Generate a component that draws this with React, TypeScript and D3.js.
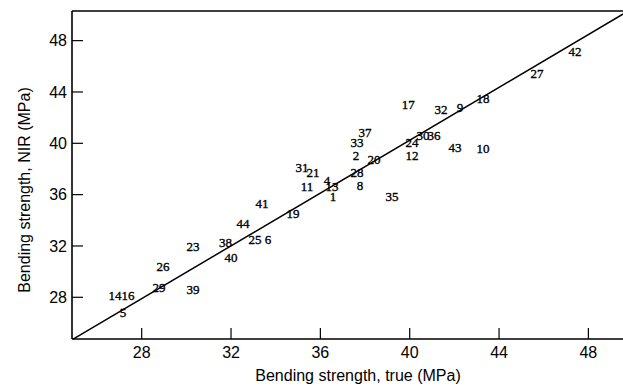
import React, { useEffect } from "react";
import * as d3 from "d3";

// sample numbers (drawn as the marks themselves)
const sampleIds = [
  "1", "2", "4", "5", "6", "8", "9", "10", "11", "12", "13", "14", "16", "17", "18",
  "19", "20", "21", "23", "24", "25", "26", "27", "28", "29", "30", "31", "32", "33",
  "35", "36", "37", "38", "39", "40", "41", "42", "43", "44",
];
// bending strength, true (MPa)
const trueValues = [
  36.57, 37.6, 36.3, 27.16, 33.66, 37.78, 42.25, 43.28, 35.4, 40.1, 36.52, 26.8, 27.39, 39.93, 43.28,
  34.78, 38.4, 35.67, 30.3, 40.1, 33.07, 28.95, 45.7, 37.64, 28.77, 40.6, 35.18, 41.4, 37.64,
  39.21, 41.09, 38.0, 31.75, 30.3, 32.0, 33.39, 47.4, 42.03, 32.54,
];
// bending strength, NIR prediction (MPa)
const nirValues = [
  35.82, 39.09, 37.14, 26.78, 32.47, 36.75, 42.83, 39.56, 36.6, 39.09, 36.6, 28.18, 28.18, 42.99, 43.53,
  34.57, 38.78, 37.69, 32.0, 40.03, 32.47, 30.44, 45.48, 37.69, 28.8, 40.65, 38.08, 42.6, 40.03,
  35.82, 40.65, 40.81, 32.31, 28.65, 31.14, 35.35, 47.12, 39.71, 33.79,
];
const xTicks = [28, 32, 36, 40, 44, 48];
const yTicks = [28, 32, 36, 40, 44, 48];
// fitted line y = a + b x
const fitA = -0.92;
const fitB = 1.029;
const fitRange = [24.93, 49.56];

const W = 623;
const H = 387;
const left = 72;
const right = 623;
const top = 11;
const bottom = 339;

export default function App() {
  useEffect(() => {
    document.body.style.margin = "0";
  }, []);

  const x = d3.scaleLinear().domain([24.88, 49.55]).range([left, right]);
  const y = d3.scaleLinear().domain([24.75, 50.31]).range([bottom, top]);

  const line = d3
    .line<number>()
    .x((d) => x(d))
    .y((d) => y(fitA + fitB * d));

  const axisFont = "'Liberation Sans', Arial, sans-serif";

  return (
    <svg width={W} height={H} style={{ display: "block", background: "#fff" }}>
      {/* frame */}
      <line x1={left} y1={top} x2={right} y2={top} stroke="#000" strokeWidth={1.6} />
      <line x1={left} y1={top} x2={left} y2={bottom} stroke="#000" strokeWidth={1.6} />
      <line x1={left} y1={bottom} x2={right} y2={bottom} stroke="#000" strokeWidth={1.6} />

      {/* x ticks */}
      {xTicks.map((t) => (
        <g key={"x" + t}>
          <line x1={x(t)} x2={x(t)} y1={bottom} y2={bottom - 11} stroke="#000" strokeWidth={1.2} />
          <text x={x(t)} y={358} textAnchor="middle" fontFamily={axisFont} fontSize={16}>
            {t}
          </text>
        </g>
      ))}

      {/* y ticks */}
      {yTicks.map((t) => (
        <g key={"y" + t}>
          <line x1={left} x2={left + 11} y1={y(t)} y2={y(t)} stroke="#000" strokeWidth={1.2} />
          <text
            x={67}
            y={y(t)}
            dy="0.36em"
            textAnchor="end"
            fontFamily={axisFont}
            fontSize={16}
          >
            {t}
          </text>
        </g>
      ))}

      {/* axis titles */}
      <text x={358} y={381} textAnchor="middle" fontFamily={axisFont} fontSize={16}>
        Bending strength, true (MPa)
      </text>
      <text
        transform={`translate(30,${190}) rotate(-90)`}
        textAnchor="middle"
        fontFamily={axisFont}
        fontSize={16}
      >
        Bending strength, NIR (MPa)
      </text>

      {/* regression line */}
      <path d={line(fitRange) ?? ""} fill="none" stroke="#000" strokeWidth={1.5} />

      {/* sample labels */}
      {sampleIds.map((id, i) => (
        <text
          key={id}
          x={x(trueValues[i])}
          y={y(nirValues[i])}
          dy="0.35em"
          textAnchor="middle"
          fontFamily="'Liberation Serif', 'DejaVu Serif', serif"
          fontSize={13}
          fill="#000"
          stroke="#000"
          strokeWidth={0.35}
        >
          {id}
        </text>
      ))}
    </svg>
  );
}
